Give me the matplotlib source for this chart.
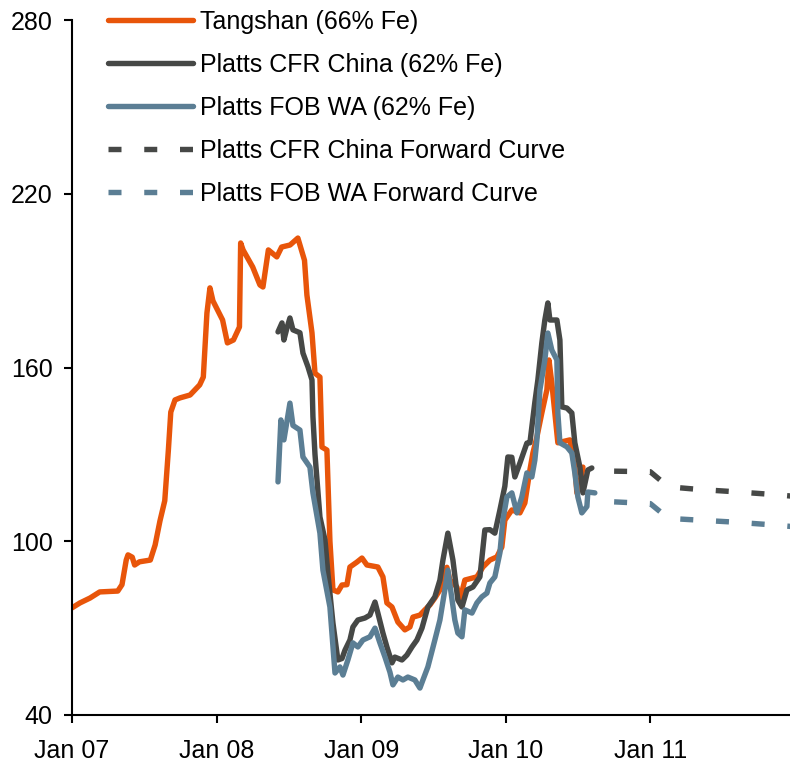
import matplotlib
matplotlib.use("Agg")
import matplotlib.pyplot as plt
from matplotlib.lines import Line2D

plt.rcParams['font.family'] = ['Liberation Sans', 'DejaVu Sans']

# x values: months since Jan 2007
tangshan_m = [0.0, 0.66, 1.5, 2.3, 3.8, 4.15, 4.5, 4.65, 5.0, 5.2, 5.6, 6.5, 6.9, 7.3, 7.7,
              8.0, 8.2, 8.55, 8.96, 9.8, 10.6, 10.9, 11.2, 11.45, 11.7, 12.5, 12.9, 13.4,
              13.9, 14.0, 14.2, 15.0, 15.6, 15.85, 16.3, 17.0, 17.4, 18.1, 18.75, 19.3,
              19.50, 19.92, 20.17, 20.58, 20.75, 21.16, 21.41, 21.66, 22.07, 22.41, 22.82,
              23.07, 23.65, 24.07, 24.48, 25.39, 25.81, 26.14, 26.56, 27.05, 27.63, 28.05,
              28.30, 28.88, 29.29, 29.71, 30.12, 30.54, 30.79, 31.12, 31.37, 31.95, 32.20,
              32.61, 33.61, 34.11, 34.69, 35.27, 35.68, 35.93, 36.51, 37.18, 37.59, 38.01,
              38.26, 38.59, 39.00, 39.42, 39.59, 39.83, 40.08, 40.33, 41.33, 41.74, 41.91,
              42.16, 42.41]
tangshan_v = [77.0, 78.7, 80.4, 82.5, 82.8, 85.0, 93.5, 95.3, 94.5, 91.8, 92.9, 93.5, 98.7,
              107.0, 114.0, 131.5, 144.6, 148.8, 149.5, 150.5, 154.0, 156.7, 178.8, 187.5,
              183.0, 176.4, 168.5, 169.5, 174.0, 203.0, 200.6, 194.7, 188.5, 187.8, 200.6,
              198.2, 201.6, 202.3, 204.7, 197.0,
              185.0, 172.0, 158.0, 156.7, 132.5, 131.5, 100.0, 83.2, 82.5, 84.9, 85.0,
              91.1, 92.8, 94.2, 91.8, 91.1, 87.7, 78.7, 77.3, 72.1, 69.4, 70.4,
              73.8, 74.5, 76.3, 78.0, 80.4, 83.2, 87.0, 91.0, 86.6, 84.2, 79.7,
              86.6, 87.7, 91.1, 93.5, 94.6, 98.0, 107.3, 110.8, 109.8, 113.2, 124.6,
              130.5, 136.0, 144.3, 152.3, 162.6, 154.6, 144.3, 134.0, 135.0, 125.6, 116.7,
              118.7, 125.6]

cfr_m = [17.10, 17.43, 17.59, 17.84, 18.09, 18.34, 18.92, 19.17, 19.59, 19.92, 20.00, 20.17,
         20.58, 21.00, 21.24, 21.66, 22.07, 22.41, 22.66, 23.07, 23.32, 23.73, 24.32, 24.73,
         25.15, 25.39, 25.81, 26.14, 26.56, 26.80, 27.39, 27.80, 28.22, 28.63, 29.05, 29.54,
         30.12, 30.54, 30.79, 31.20, 31.62, 32.03, 32.37, 32.78, 33.28, 33.86, 34.27, 34.69,
         35.10, 35.52, 35.93, 36.18, 36.51, 36.76, 37.18, 37.76, 38.01, 38.42, 38.67, 39.00,
         39.25, 39.50, 39.67, 40.25, 40.50, 40.66, 41.08, 41.49, 41.74, 42.16, 42.41, 42.82,
         43.15]
cfr_v = [172.3, 175.4, 169.5, 173.6, 177.1, 173.0, 172.0, 165.0, 160.2, 155.7, 143.0, 130.0,
         108.4, 100.5, 89.0, 71.8, 59.0, 59.5, 62.4, 65.9, 70.4, 72.8, 73.5, 74.5,
         79.0, 75.2, 68.3, 63.5, 58.0, 60.0, 59.0, 60.7, 63.5, 65.9, 70.0, 77.3,
         80.8, 86.6, 93.5, 102.8, 93.5, 79.7, 77.3, 83.2, 84.2, 87.7, 103.9, 104.0,
         102.8, 110.8, 119.0, 129.1, 129.0, 122.2, 127.0, 133.9, 134.0, 148.0, 155.7, 168.5,
         176.4, 182.3, 176.4, 176.4, 169.5, 146.4, 146.0, 144.3, 134.0, 125.6, 116.7, 124.6,
         125.3]

fob_m = [17.10, 17.34, 17.59, 18.09, 18.34, 18.92, 19.17, 19.75, 20.00, 20.58, 20.83, 21.41,
         21.83, 22.24, 22.49, 22.90, 23.32, 23.73, 24.15, 24.73, 25.15, 25.56, 25.98, 26.39,
         26.64, 27.05, 27.47, 27.88, 28.46, 28.88, 29.13, 29.54, 30.12, 30.54, 30.95, 31.20,
         31.54, 31.78, 32.03, 32.37, 32.61, 33.20, 33.61, 34.02, 34.44, 34.69, 35.10, 35.52,
         35.77, 36.10, 36.51, 36.93, 37.34, 37.76, 38.17, 38.42, 38.59, 38.84, 39.25, 39.50,
         39.83, 40.25, 40.33, 40.50, 41.08, 41.49, 41.74, 41.99, 42.32, 42.74, 42.82, 43.40]
fob_v = [120.5, 141.9, 135.0, 147.7, 140.0, 138.4, 129.1, 125.6, 116.7, 102.8, 90.0, 77.3,
         54.5, 56.6, 53.8, 59.0, 64.9, 63.5, 65.9, 67.0, 70.0, 64.9, 60.0, 54.8,
         50.4, 53.1, 52.1, 53.1, 52.1, 49.3, 52.1, 56.6, 65.9, 72.8, 83.2, 90.0,
         80.0, 72.8, 68.3, 67.0, 76.3, 75.2, 78.7, 80.8, 82.1, 85.6, 87.7, 96.0,
         107.3, 115.3, 116.7, 109.8, 115.3, 123.6, 122.2, 128.0, 135.0, 152.3, 162.6, 171.9,
         166.0, 162.6, 144.3, 134.0, 132.6, 130.5, 123.6, 115.3, 109.8, 112.0, 117.0, 116.7]

fwd_m = [45, 48, 49.5, 52, 55, 58, 60]
cfr_fwd_v = [124.2, 124.0, 118.8, 117.9, 117.1, 116.2, 115.5]
fob_fwd_v = [113.6, 113.0, 107.9, 107.3, 106.6, 105.7, 105.0]

labels = ['Tangshan (66% Fe)', 'Platts CFR China (62% Fe)', 'Platts FOB WA (62% Fe)',
          'Platts CFR China Forward Curve', 'Platts FOB WA Forward Curve']
xtick_m = [0, 12, 24, 36, 48]
xtick_labels = ['Jan 07', 'Jan 08', 'Jan 09', 'Jan 10', 'Jan 11']
ytick_v = [40, 100, 160, 220, 280]

ORANGE = '#E8550A'
DARK = '#464846'
BLUE = '#5B7E94'
LW = 3.9
DASH = (0, (2.4, 4.2))

fig = plt.figure(figsize=(7.9, 7.65), dpi=100)
ax = fig.add_axes([72/790, 1-715/765, 1-72/790, (715-20)/765])

kw = dict(lw=LW, solid_capstyle='round', solid_joinstyle='round')
ax.plot(tangshan_m, tangshan_v, color=ORANGE, **kw)
ax.plot(cfr_m, cfr_v, color=DARK, **kw)
ax.plot(fob_m, fob_v, color=BLUE, **kw)
ax.plot(fwd_m, cfr_fwd_v, color=DARK, lw=LW, linestyle=DASH, dash_capstyle='butt')
ax.plot(fwd_m, fob_fwd_v, color=BLUE, lw=LW, linestyle=DASH, dash_capstyle='butt')

ax.set_xlim(0, 59.6)
ax.set_ylim(40, 280)
ax.set_xticks(xtick_m)
ax.set_xticklabels(xtick_labels)
ax.set_yticks(ytick_v)
for s in ['top', 'right']:
    ax.spines[s].set_visible(False)
for s in ['left', 'bottom']:
    ax.spines[s].set_linewidth(1.5)
ax.tick_params(axis='both', labelsize=18, width=1.5, length=6, direction='out')
ax.tick_params(axis='y', pad=8)
ax.tick_params(axis='x', pad=11)

handles = [
    Line2D([], [], color=ORANGE, lw=LW, solid_capstyle='round'),
    Line2D([], [], color=DARK, lw=LW, solid_capstyle='round'),
    Line2D([], [], color=BLUE, lw=LW, solid_capstyle='round'),
    Line2D([], [], color=DARK, lw=LW, linestyle=DASH, dash_capstyle='butt'),
    Line2D([], [], color=BLUE, lw=LW, linestyle=DASH, dash_capstyle='butt'),
]
leg = fig.legend(handles, labels, loc='upper left', bbox_to_anchor=(108/790, 1-10/765),
                 frameon=False, fontsize=18, handlelength=3.4, handletextpad=0.28,
                 labelspacing=0.76, borderpad=0, borderaxespad=0)

fig.savefig('out.png', dpi=100)
